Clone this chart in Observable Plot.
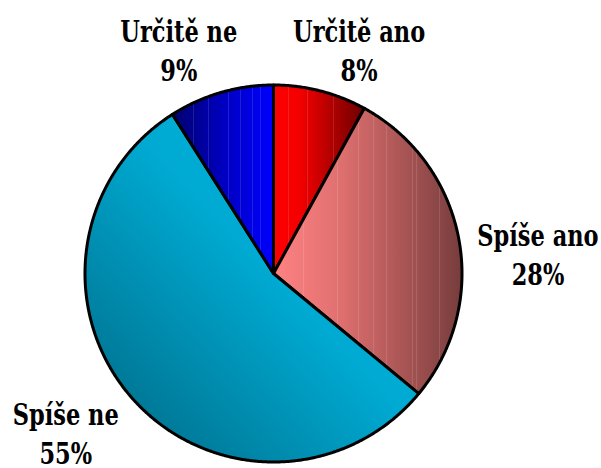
<!DOCTYPE html>
<html><head><meta charset="utf-8">
<script src="https://cdn.jsdelivr.net/npm/d3@7"></script>
<script src="https://cdn.jsdelivr.net/npm/@observablehq/plot@0.6"></script>
<style>
body{margin:0;background:#fff}
</style>
</head><body><div id="chart"></div>
<script>
const categories = ["Určitě ano", "Spíše ano", "Spíše ne", "Určitě ne"];
const values = [8, 28, 55, 9];
const valueLabels = ["8%", "28%", "55%", "9%"];
const gradientIds = ["gAno", "gSpiseAno", "gSpiseNe", "gNe"];

// layout (not data)
const labelNudge = [[27, 4], [33, 24], [-31, 3], [-29, 2]];
const cx = 273, cy = 273, r = 188.5, labelR = 1.25;
const labelFont = "'DejaVu Serif Condensed', 'DejaVu Serif', serif";
const fontPx = 25, stretchY = 1.2;

const data = categories.map((c, i) => ({category: c, value: values[i], label: valueLabels[i]}));
const arcs = d3.pie().sort(null).value(d => d.value)(data);

const polys = arcs.map(a => {
  const pts = [{x: 0, y: 0}];
  const n = Math.max(12, Math.ceil((a.endAngle - a.startAngle) * 150));
  for (let k = 0; k <= n; k++) {
    const ang = a.startAngle + (a.endAngle - a.startAngle) * k / n;
    pts.push({x: Math.sin(ang), y: Math.cos(ang)});
  }
  pts.push({x: 0, y: 0});
  return pts;
});

const chart = Plot.plot({
  width: 601, height: 468, margin: 0,
  style: {background: "white"},
  x: {domain: [-1, 1], range: [cx - r, cx + r], axis: null},
  y: {domain: [-1, 1], range: [cy + r, cy - r], axis: null},
  marks: [
    ...polys.map((p, i) => Plot.line(p, {
      x: "x", y: "y", fill: `url(#${gradientIds[i]})`,
      stroke: "black", strokeWidth: 3, strokeLinejoin: "round"
    })),
    ...arcs.map((a, i) => Plot.text([a], {
      x: d => labelR * Math.sin((d.startAngle + d.endAngle) / 2),
      y: d => labelR * Math.cos((d.startAngle + d.endAngle) / 2),
      text: d => d.data.category + "\n" + d.data.label,
      dx: labelNudge[i][0], dy: labelNudge[i][1],
      fontSize: fontPx, fontWeight: "bold", fontFamily: labelFont,
      lineHeight: 39 / (fontPx * stretchY), lineAnchor: "middle", fill: "black"
    }))
  ]
});
document.getElementById("chart").appendChild(chart);

const svg = d3.select(chart);
svg.selectAll("text")
  .style("font-stretch", "condensed")
  .attr("transform", function() {
    const t = this.getAttribute("transform") || "";
    return `${t} scale(1,${stretchY})`;
  });

const defs = svg.insert("defs", ":first-child");
function grad(id, stops, stripes = [], half = 0.005, dir = [0, 0, 1, 0]) {
  const g = defs.append("linearGradient").attr("id", id)
    .attr("x1", dir[0]).attr("y1", dir[1]).attr("x2", dir[2]).attr("y2", dir[3]);
  const base = d3.scaleLinear().domain(stops.map(s => s[0])).range(stops.map(s => s[1])).interpolate(d3.interpolateRgb);
  const all = stops.map(s => [s[0], s[1]]);
  stripes.forEach(o => {
    const c = base(o), light = d3.interpolateRgb(c, "#ffffff")(0.12);
    all.push([o - half, c], [o - half, light], [o + half, light], [o + half, c]);
  });
  all.sort((a, b) => a[0] - b[0]);
  all.forEach(([o, c]) => g.append("stop").attr("offset", o).attr("stop-color", c));
}
grad("gAno", [[0, "#ff0000"], [0.3, "#f20000"], [1, "#6c0000"]],
  [0.17, 0.37, 0.49, 0.66, 0.82], 0.005);
grad("gSpiseAno", [[0, "#ff8282"], [0.35, "#e07070"], [1, "#773c3c"]],
  [0.16, 0.34, 0.45, 0.53, 0.6, 0.74, 0.76, 0.88], 0.0027);
grad("gSpiseNe", [[0, "#00b6de"], [0.45, "#00aad2"], [1, "#006580"]], [], 0, [1, 0, 0, 1]);
grad("gNe", [[0, "#00006e"], [0.5, "#0000c0"], [1, "#0000ff"]],
  [0.21, 0.36, 0.55, 0.67, 0.79, 0.87], 0.0045);
</script>
</body></html>
